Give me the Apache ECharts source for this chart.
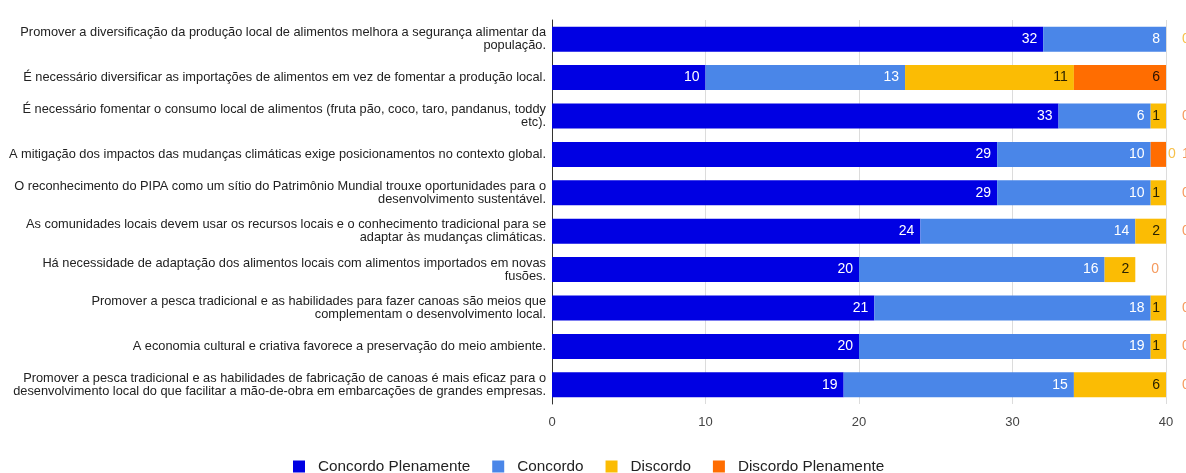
<!DOCTYPE html>
<html>
<head>
<meta charset="utf-8">
<script src="https://cdn.jsdelivr.net/npm/echarts@6/dist/echarts.min.js"></script>
<style>html,body{margin:0;padding:0;background:#fff;}#c{width:1186px;height:473px;}</style>
</head>
<body>
<div id="c"></div>
<script>
var categories = [
  "Promover a diversificação da produção local de alimentos melhora a segurança alimentar da\npopulação.",
  "É necessário diversificar as importações de alimentos em vez de fomentar a produção local.",
  "É necessário fomentar o consumo local de alimentos (fruta pão, coco, taro, pandanus, toddy\netc).",
  "A mitigação dos impactos das mudanças climáticas exige posicionamentos no contexto global.",
  "O reconhecimento do PIPA como um sítio do Patrimônio Mundial trouxe oportunidades para o\ndesenvolvimento sustentável.",
  "As comunidades locais devem usar os recursos locais e o conhecimento tradicional para se\nadaptar às mudanças climáticas.",
  "Há necessidade de adaptação dos alimentos locais com alimentos importados em novas\nfusões.",
  "Promover a pesca tradicional e as habilidades para fazer canoas são meios que\ncomplementam o desenvolvimento local.",
  "A economia cultural e criativa favorece a preservação do meio ambiente.",
  "Promover a pesca tradicional e as habilidades de fabricação de canoas é mais eficaz para o\ndesenvolvimento local do que facilitar a mão-de-obra em embarcações de grandes empresas."
];
var seriesNames = ["Concordo Plenamente", "Concordo", "Discordo", "Discordo Plenamente"];
var concordoPlenamente = [32, 10, 33, 29, 29, 24, 20, 21, 20, 19];
var concordo = [8, 13, 6, 10, 10, 14, 16, 18, 19, 15];
var discordo = [0, 11, 1, 0, 1, 2, 2, 1, 1, 6];
var discordoPlenamente = [0, 6, 0, 1, 0, 0, 0, 0, 0, 0];
var xTicks = [0, 10, 20, 30, 40];

var colors = ["#0000e3", "#4a86e8", "#fbbc04", "#ff6d01"];
var chart = echarts.init(document.getElementById('c'));
var FONT = 'Liberation Sans, Arial, sans-serif';

function inLabel(color, minVal) {
  return {
    show: true, position: 'insideRight', color: color, fontSize: 14,
    fontFamily: FONT, distance: 6,
    formatter: function (p) { return p.value >= minVal ? String(p.value) : ''; }
  };
}

var outsideData = categories.map(function () { return 0; });

var option = {
  animation: false,
  backgroundColor: '#fff',
  color: colors,
  textStyle: { fontFamily: FONT },
  grid: { left: 552, right: 20, top: 20, height: 384 },
  legend: {
    data: seriesNames, top: 454, left: 288, icon: 'rect',
    itemWidth: 12, itemHeight: 12, itemGap: 22,
    textStyle: { color: '#222', fontSize: 15.3, fontFamily: FONT, padding: [0, 0, 0, 8] }
  },
  xAxis: {
    type: 'value', min: xTicks[0], max: xTicks[xTicks.length - 1], interval: 10,
    axisLine: { show: false }, axisTick: { show: false },
    splitLine: { lineStyle: { color: '#dcdcdc' } },
    axisLabel: { color: '#444', fontSize: 13, margin: 12 }
  },
  yAxis: {
    type: 'category', data: categories, inverse: true,
    axisLine: { show: true, lineStyle: { color: '#333' } }, axisTick: { show: false },
    axisLabel: { color: '#222', fontSize: 12.8, lineHeight: 13, margin: 6, align: 'right' }
  },
  series: [
    { name: seriesNames[0], type: 'bar', stack: 's', barWidth: 25, data: concordoPlenamente, label: inLabel('#fff', 1) },
    { name: seriesNames[1], type: 'bar', stack: 's', data: concordo, label: inLabel('#fff', 1) },
    { name: seriesNames[2], type: 'bar', stack: 's', data: discordo, label: inLabel('#2a2200', 1) },
    { name: seriesNames[3], type: 'bar', stack: 's', data: discordoPlenamente, label: inLabel('#2a1200', 2) },
    {
      name: 'out', type: 'bar', stack: 's', data: outsideData, silent: true,
      itemStyle: { color: 'transparent' },
      label: {
        show: true, position: 'right', distance: 2,
        formatter: function (p) {
          var i = p.dataIndex, d = discordo[i], dp = discordoPlenamente[i];
          var s1 = '{s| }', s2 = '';
          if (d === 0 && dp > 0) { s1 = '{y|0}'; }
          if (dp === 0) { s2 = d === 0 ? '{y|0}' : '{o|0}'; }
          else if (dp < 2) { s2 = '{o|' + dp + '}'; }
          return s1 + s2;
        },
        rich: {
          s: { width: 14, fontSize: 14 },
          y: { width: 14, fontSize: 14, color: '#f7c04a' },
          o: { width: 14, fontSize: 14, color: '#f59a5e' }
        }
      }
    }
  ]
};
chart.setOption(option);
</script>
</body>
</html>
